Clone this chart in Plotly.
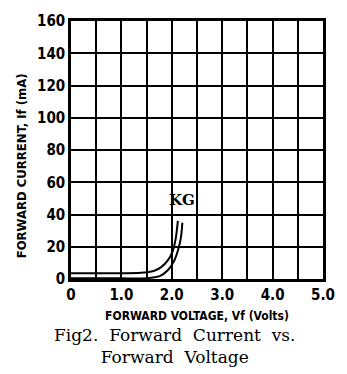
import plotly.graph_objects as go

# Forward characteristic of the KG LED, drawn as two traced edges of the curve
vf_upper = [0.0, 0.5, 1.0, 1.38, 1.64, 1.79, 1.92, 2.02, 2.08, 2.12]
if_upper = [3.6, 3.6, 3.6, 3.8, 5.0, 7.4, 11.5, 17.5, 25.5, 36.0]

vf_lower = [0.0, 0.5, 1.0, 1.51, 1.76, 1.92, 2.05, 2.12, 2.18, 2.21]
if_lower = [0.4, 0.4, 0.4, 0.5, 1.8, 5.4, 11.5, 17.5, 25.5, 35.0]

series_label = "KG"
label_pos = (2.21, 49)

x_tickvals = [0, 1, 2, 3, 4, 5]
x_ticktext = ["0", "1.0", "2.0", "3.0", "4.0", "5.0"]
y_tickvals = [0, 20, 40, 60, 80, 100, 120, 140, 160]
y_ticktext = [str(v) for v in y_tickvals]

sans = "DejaVu Sans Condensed, DejaVu Sans, Liberation Sans"
serif = "DejaVu Serif, Liberation Serif"
tick_font = dict(family=sans, size=15, color="black", weight="bold")
title_font = dict(family=sans, size=12, color="black", weight="bold")

fig = go.Figure()
for xs, ys in [(vf_upper, if_upper), (vf_lower, if_lower)]:
    fig.add_trace(go.Scatter(
        x=xs, y=ys, mode="lines",
        line=dict(color="black", width=2, shape="spline", smoothing=0.8),
        showlegend=False, hoverinfo="skip",
    ))

fig.add_annotation(
    x=label_pos[0], y=label_pos[1], text=series_label, showarrow=False,
    font=dict(family=serif, size=15, color="black", weight="bold"),
)

# y-axis title, placed by hand so it sits a little below the plot centre
fig.add_annotation(
    x=-0.195, y=0.44, xref="paper", yref="paper", xanchor="center", yanchor="middle",
    text="FORWARD CURRENT, If (mA)", textangle=-90, showarrow=False,
    font=dict(family=sans, size=13, color="black", weight="bold"),
)

fig.add_annotation(
    x=0.41, y=-0.17, xref="paper", yref="paper", xanchor="center", yanchor="top",
    text="Fig2.  Forward  Current  vs.<br>Forward  Voltage", showarrow=False, align="center",
    font=dict(family=serif, size=17, color="black"),
)

fig.update_xaxes(
    range=[0, 5], tickvals=x_tickvals, ticktext=x_ticktext, ticks="",
    showgrid=True, gridcolor="black", gridwidth=1.6,
    minor=dict(dtick=0.5, showgrid=True, gridcolor="black", gridwidth=1.6),
    showline=True, linecolor="black", linewidth=3, mirror=True,
    tickfont=tick_font, zeroline=False,
    title=dict(text="FORWARD VOLTAGE, Vf (Volts)", font=title_font, standoff=9),
)
fig.update_yaxes(
    range=[0, 160], tickvals=y_tickvals, ticktext=y_ticktext, ticks="",
    showgrid=True, gridcolor="black", gridwidth=1.6,
    showline=True, linecolor="black", linewidth=2.5, mirror=True,
    tickfont=tick_font, zeroline=False,
)

fig.update_layout(
    width=347, height=374,
    margin=dict(l=71, r=14, t=15, b=95),
    plot_bgcolor="white", paper_bgcolor="white",
)

fig.write_html("out.html")
